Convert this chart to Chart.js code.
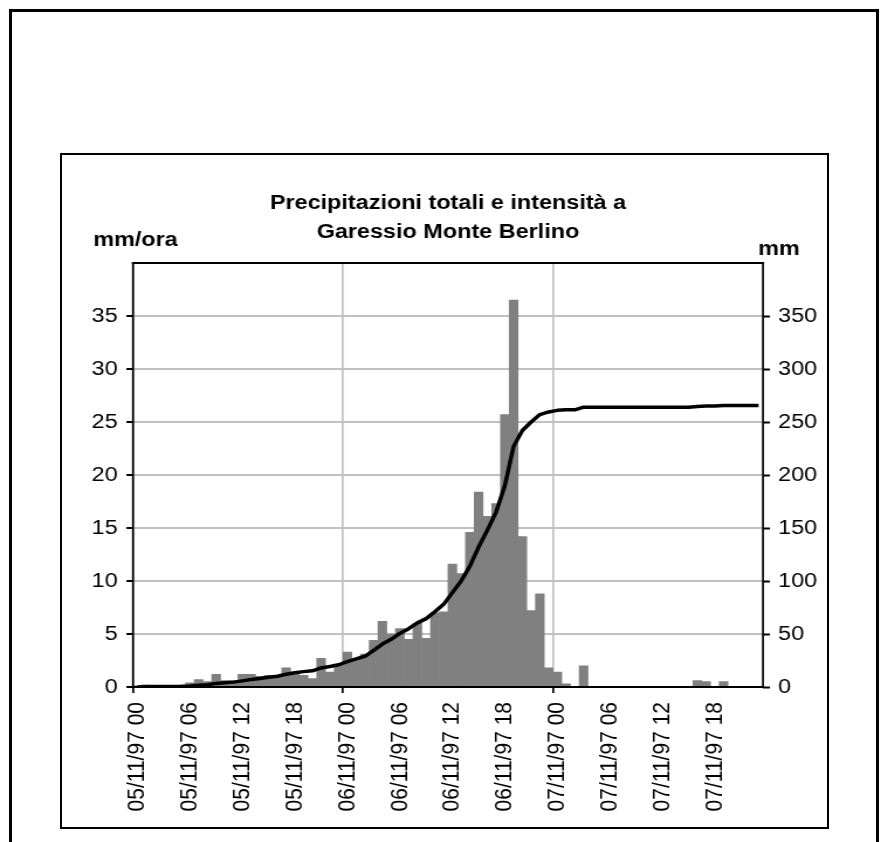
<!DOCTYPE html>
<html>
<head>
<meta charset="utf-8">
<title>Precipitazioni Garessio Monte Berlino</title>
<script src="https://cdn.jsdelivr.net/npm/chart.js@4.4.1/dist/chart.umd.min.js"></script>
<style>
  html, body { margin: 0; padding: 0; background: #fff; }
  body { width: 884px; height: 842px; position: relative; overflow: hidden; }
  .outer { position: absolute; left: 9px; top: 9px; width: 870px; height: 900px; border: 3px solid #000; box-sizing: border-box; }
  .frame { position: absolute; left: 60px; top: 153px; width: 769px; height: 676px; border: 2px solid #000; box-sizing: border-box; }
  /* the original picture is stretched sideways, so is this one */
  .stretch { position: absolute; left: 62px; top: 155px; width: 654px; height: 672px; transform: scaleX(1.17); transform-origin: 0 0; }
</style>
</head>
<body>
<div class="outer"></div>
<div class="frame"></div>
<div class="stretch"><canvas id="chart"></canvas></div>
<script>
// categories: one per hour
const days = ['05/11/97', '06/11/97', '07/11/97'];
const hours = ['00', '01', '02', '03', '04', '05', '06', '07', '08', '09', '10', '11',
               '12', '13', '14', '15', '16', '17', '18', '19', '20', '21', '22', '23'];
const labels = days.flatMap(d => hours.map(h => d + ' ' + h));

// hourly intensity (mm/ora), bars, left axis
const intensity = [
  0.1, 0.2, 0.1, 0.0, 0.1, 0.1,
  0.4, 0.7, 0.5, 1.2, 0.6, 0.6,
  1.2, 1.2, 1.0, 1.1, 1.1, 1.8,
  1.4, 1.1, 0.8, 2.7, 1.4, 2.1,
  3.3, 2.6, 3.1, 4.4, 6.2, 5.0,
  5.5, 4.5, 6.0, 4.6, 7.0, 7.1,
  11.6, 10.7, 14.6, 18.4, 16.1, 17.3,
  25.7, 36.5, 14.2, 7.2, 8.8, 1.8,
  1.4, 0.3, 0.0, 2.0, 0.0, 0.0,
  0.0, 0.0, 0.0, 0.0, 0.0, 0.0,
  0.0, 0.0, 0.0, 0.0, 0.6, 0.5,
  0.0, 0.5, 0.0, 0.0, 0.0, 0.0
];

// cumulative rainfall (mm), line, right axis
const cumulative = [
  0.1, 0.3, 0.4, 0.4, 0.5, 0.6,
  1.0, 1.7, 2.2, 3.4, 4.0, 4.6,
  5.8, 7.0, 8.0, 9.1, 10.2, 12.0,
  13.4, 14.5, 15.3, 18.0, 19.4, 21.0,
  24.0, 26.5, 29.0, 34.5, 40.5, 45.0,
  50.5, 55.0, 60.5, 64.5, 71.0, 78.0,
  89.0, 100.0, 114.0, 132.0, 148.0, 165.0,
  190.0, 227.0, 242.0, 250.0, 257.0, 259.5,
  261.0, 261.5, 261.5, 264.0, 264.0, 264.0,
  264.0, 264.0, 264.0, 264.0, 264.0, 264.0,
  264.0, 264.0, 264.0, 264.0, 264.6, 265.1,
  265.1, 265.6, 265.6, 265.6, 265.6, 265.6
];

const titleLines = ['Precipitazioni totali e intensità a', 'Garessio Monte Berlino'];
const leftUnit = 'mm/ora';
const rightUnit = 'mm';

const GRID = '#c0c0c0';
Chart.defaults.font.family = '"Liberation Sans", Arial, sans-serif';
Chart.defaults.color = '#000';

// black box round the plot area and the two unit labels over the axes
const plotBox = {
  id: 'plotBox',
  afterDatasetsDraw(chart) {
    const { ctx, chartArea: a } = chart;
    ctx.save();
    ctx.strokeStyle = '#000';
    ctx.lineWidth = 2;
    ctx.beginPath();
    ctx.moveTo(a.left - 1, a.top);
    ctx.lineTo(a.right + 1, a.top);
    ctx.moveTo(a.left - 1, a.bottom);
    ctx.lineTo(a.right + 1, a.bottom);
    ctx.stroke();
    ctx.lineWidth = 1.7;
    ctx.beginPath();
    ctx.moveTo(a.left, a.top);
    ctx.lineTo(a.left, a.bottom + 1);
    ctx.moveTo(a.right, a.top);
    ctx.lineTo(a.right, a.bottom + 1);
    ctx.stroke();

    ctx.font = 'bold 20px "Liberation Sans", Arial, sans-serif';
    ctx.fillStyle = '#000';
    ctx.textBaseline = 'alphabetic';
    ctx.textAlign = 'left';
    ctx.fillText(leftUnit, a.left - 34, a.top - 17.3);
    ctx.fillText(rightUnit, a.right - 4.2, a.top - 8.3);
    ctx.restore();
  }
};

new Chart(document.getElementById('chart'), {
  type: 'bar',
  data: {
    labels: labels,
    datasets: [
      {
        type: 'line',
        label: 'mm',
        data: cumulative,
        yAxisID: 'y1',
        borderColor: '#000',
        borderWidth: 3.5,
        borderJoinStyle: 'round',
        pointRadius: 0,
        tension: 0,
        fill: false,
        order: 0
      },
      {
        label: 'mm/ora',
        data: intensity,
        yAxisID: 'y',
        backgroundColor: '#808080',
        borderWidth: 0,
        categoryPercentage: 1,
        barPercentage: 1,
        order: 1
      }
    ]
  },
  options: {
    responsive: true,
    maintainAspectRatio: false,
    animation: false,
    layout: { padding: 0 },
    plugins: {
      legend: { display: false },
      tooltip: { enabled: false },
      title: {
        display: true,
        text: titleLines,
        fullSize: false,
        color: '#000',
        font: { size: 20, weight: 'bold', lineHeight: 1.465 },
        padding: { top: 34, bottom: 15.4 }
      }
    },
    scales: {
      x: {
        offset: true,
        border: { display: false },
        grid: {
          offset: true,
          z: -1,
          lineWidth: 1.7,
          color: (c) => (c.index % 24 === 0 ? GRID : 'transparent'),
          tickColor: (c) => (c.index % 24 === 0 ? '#000' : 'transparent'),
          tickLength: 6,
          tickWidth: 1.7
        },
        ticks: {
          autoSkip: false,
          minRotation: 90,
          maxRotation: 90,
          padding: 9,
          color: '#000',
          font: { size: 21 },
          callback: (v, i) => (i % 6 === 0 ? labels[i] : '')
        },
        afterFit: (s) => { s.height = 140; }
      },
      y: {
        position: 'left',
        min: 0,
        max: 40,
        border: { display: false },
        grid: {
          z: -1,
          lineWidth: 2,
          color: (c) => (c.tick && c.tick.value > 0 && c.tick.value < 40 ? GRID : 'transparent'),
          tickColor: (c) => (c.tick && c.tick.value === 40 ? 'transparent' : '#000'),
          tickLength: 5.6,
          tickWidth: 2
        },
        ticks: {
          stepSize: 5,
          padding: 7.5,
          color: '#000',
          font: { size: 20 },
          callback: (v) => (v === 40 ? '' : v)
        },
        afterFit: (s) => { s.width = 60.7; }
      },
      y1: {
        position: 'right',
        min: 0,
        max: 400,
        border: { display: false },
        grid: {
          drawOnChartArea: false,
          tickColor: (c) => (c.tick && c.tick.value === 400 ? 'transparent' : '#000'),
          tickLength: 6,
          tickWidth: 2
        },
        ticks: {
          stepSize: 50,
          padding: 7,
          color: '#000',
          font: { size: 20 },
          callback: (v) => (v === 400 ? '' : v)
        },
        afterFit: (s) => { s.width = 54.9; }
      }
    }
  },
  plugins: [plotBox]
});
</script>
</body>
</html>
